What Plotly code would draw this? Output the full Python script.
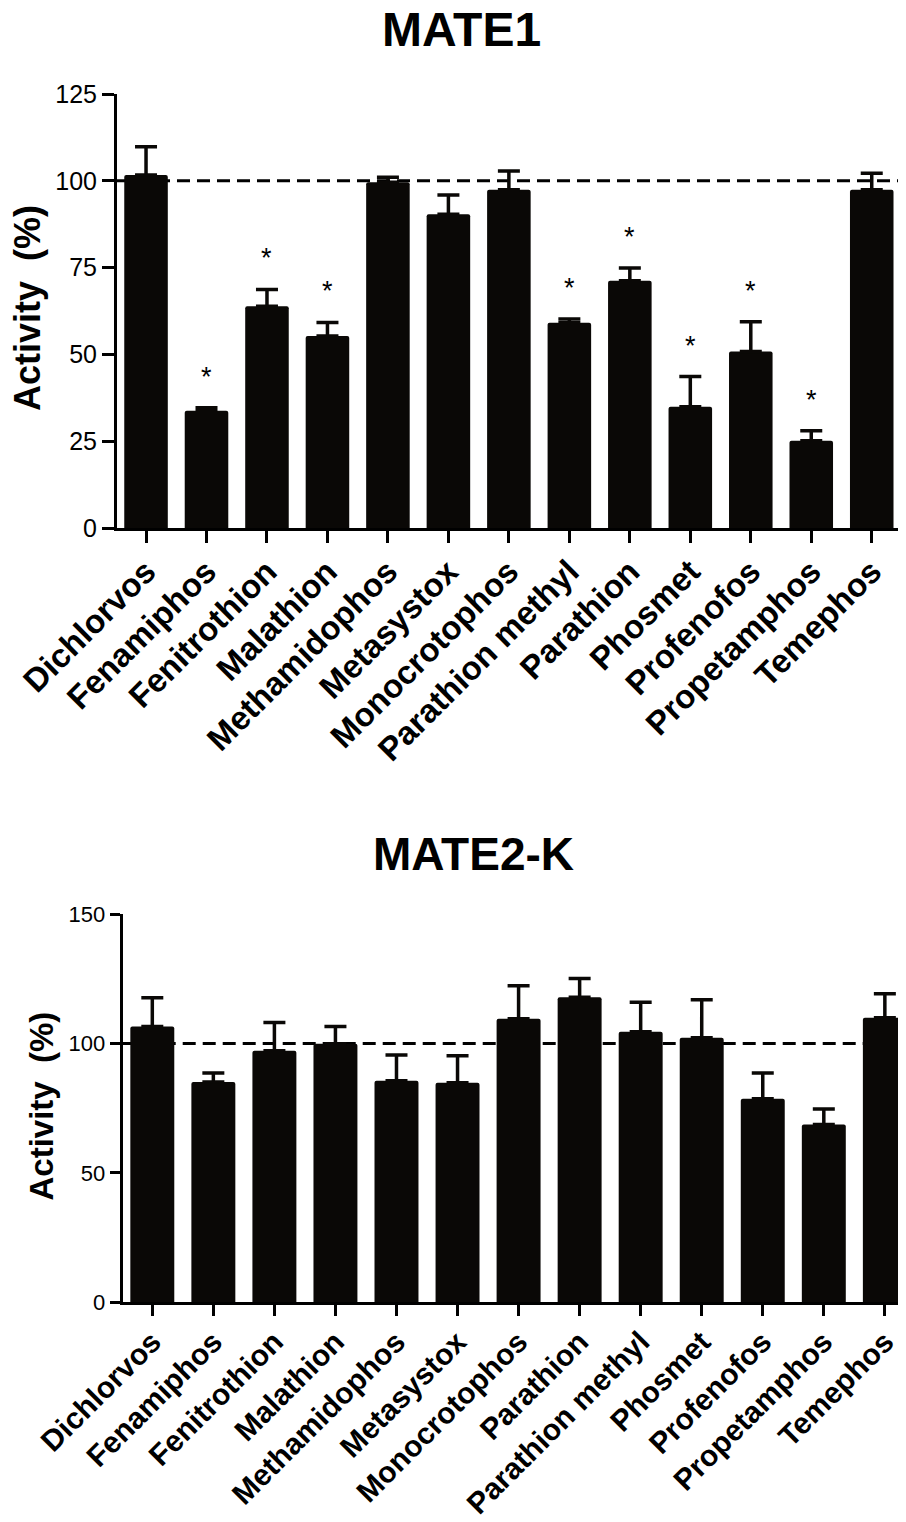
import plotly.graph_objects as go

# ---------------- data ----------------
mate1_labels = ["Dichlorvos", "Fenamiphos", "Fenitrothion", "Malathion", "Methamidophos",
                "Metasystox", "Monocrotophos", "Parathion methyl", "Parathion", "Phosmet",
                "Profenofos", "Propetamphos", "Temephos"]
mate1_mean = [101.7, 33.8, 63.9, 55.3, 99.6, 90.4, 97.4, 59.1, 71.2, 34.9, 50.8, 25.1, 97.4]
mate1_err = [8.1, 0.8, 4.8, 3.9, 1.4, 5.5, 5.4, 1.1, 3.7, 8.7, 8.6, 2.9, 4.8]
mate1_sig = [False, True, True, True, False, False, False, True, True, True, True, True, False]

mate2_labels = ["Dichlorvos", "Fenamiphos", "Fenitrothion", "Malathion", "Methamidophos",
                "Metasystox", "Monocrotophos", "Parathion", "Parathion methyl", "Phosmet",
                "Profenofos", "Propetamphos", "Temephos"]
mate2_mean = [106.5, 85.1, 97.2, 99.9, 85.6, 84.8, 109.5, 117.8, 104.5, 102.2, 78.6, 68.7, 109.9]
mate2_err = [11.1, 3.5, 10.9, 6.6, 9.9, 10.4, 12.8, 7.3, 11.4, 14.7, 10.0, 6.0, 9.3]

top_ticks = [0, 25, 50, 75, 100, 125]
bottom_ticks = [0, 50, 100, 150]
reference_level = 100

# ---------------- style ----------------
PAGE_PAD = 8            # default body margin of the html page
W, H = 906 - PAGE_PAD, 1522 - PAGE_PAD
FONT = "Liberation Sans, Arial, Helvetica, sans-serif"
BAR = "#0a0806"

def px_x(p):
    return (p - PAGE_PAD) / W

def px_y(p):
    return 1 - (p - PAGE_PAD) / H

fig = go.Figure()

fig.add_trace(go.Bar(
    x=mate1_labels, y=mate1_mean, xaxis="x", yaxis="y",
    width=0.72, marker=dict(color=BAR, line=dict(width=0), cornerradius=2),
    error_y=dict(type="data", array=mate1_err, arrayminus=[0] * len(mate1_err),
                 symmetric=False, color=BAR, thickness=3.5, width=11),
    showlegend=False,
))
fig.add_trace(go.Bar(
    x=mate2_labels, y=mate2_mean, xaxis="x2", yaxis="y2",
    width=0.72, marker=dict(color=BAR, line=dict(width=0), cornerradius=2),
    error_y=dict(type="data", array=mate2_err, arrayminus=[0] * len(mate2_err),
                 symmetric=False, color=BAR, thickness=3.5, width=11),
    showlegend=False,
))

axis_common = dict(showgrid=False, zeroline=False, showline=True, linecolor="black",
                   linewidth=3, ticks="outside", tickcolor="black", tickwidth=3,
                   fixedrange=True, automargin=False)

fig.update_layout(
    width=W, height=H, autosize=False,
    margin=dict(l=0, r=0, t=0, b=0),
    paper_bgcolor="white", plot_bgcolor="white",
    font=dict(family=FONT, color="black"),
    xaxis=dict(domain=[px_x(117), px_x(905)], anchor="y", range=[-0.48, 12.55],
               tickangle=-45, ticklen=12, ticklabelstandoff=-4,
               tickfont=dict(size=33, weight="bold", family=FONT, color="black"),
               **axis_common),
    yaxis=dict(domain=[px_y(528), px_y(94)], anchor="x", range=[0, 125],
               tickvals=top_ticks, ticklen=12,
               tickfont=dict(size=25, family=FONT, color="black"),
               **axis_common),
    xaxis2=dict(domain=[px_x(122.7), px_x(905)], anchor="y2", range=[-0.485, 12.33],
                tickangle=-45, ticklen=11, ticklabelstandoff=-4,
                tickfont=dict(size=30, weight="bold", family=FONT, color="black"),
                **axis_common),
    yaxis2=dict(domain=[px_y(1302.3), px_y(914)], anchor="x2", range=[0, 150],
                tickvals=bottom_ticks, ticklen=10,
                tickfont=dict(size=22, family=FONT, color="black"),
                **axis_common),
)

# dashed 100% reference lines (behind the bars)
for xr, yr in (("x domain", "y"), ("x2 domain", "y2")):
    fig.add_shape(type="line", xref=xr, yref=yr, x0=0, x1=1,
                  y0=reference_level, y1=reference_level, layer="below",
                  line=dict(color="black", width=3, dash="13px,7px"))

# significance stars
for lab, m, e, s in zip(mate1_labels, mate1_mean, mate1_err, mate1_sig):
    if s:
        fig.add_annotation(x=lab, y=m + e, xref="x", yref="y", text="*",
                           showarrow=False, yanchor="middle", yshift=31,
                           font=dict(size=27, family=FONT, color="black"))

# titles
fig.add_annotation(x=px_x(461), y=px_y(30), xref="paper", yref="paper", text="<b>MATE1</b>",
                   showarrow=False, xanchor="center", yanchor="middle",
                   font=dict(size=48, family=FONT, color="black"))
fig.add_annotation(x=px_x(473), y=px_y(854), xref="paper", yref="paper", text="<b>MATE2-K</b>",
                   showarrow=False, xanchor="center", yanchor="middle",
                   font=dict(size=46, family=FONT, color="black"))
fig.add_annotation(x=px_x(27), y=px_y(308), xref="paper", yref="paper",
                   text="<b>Activity&nbsp;&nbsp;(%)</b>", textangle=-90,
                   showarrow=False, xanchor="center", yanchor="middle",
                   font=dict(size=36, family=FONT, color="black"))
fig.add_annotation(x=px_x(41), y=px_y(1106.5), xref="paper", yref="paper",
                   text="<b>Activity&nbsp;&nbsp;(%)</b>", textangle=-90,
                   showarrow=False, xanchor="center", yanchor="middle",
                   font=dict(size=33, family=FONT, color="black"))

fig.write_html("out.html")
